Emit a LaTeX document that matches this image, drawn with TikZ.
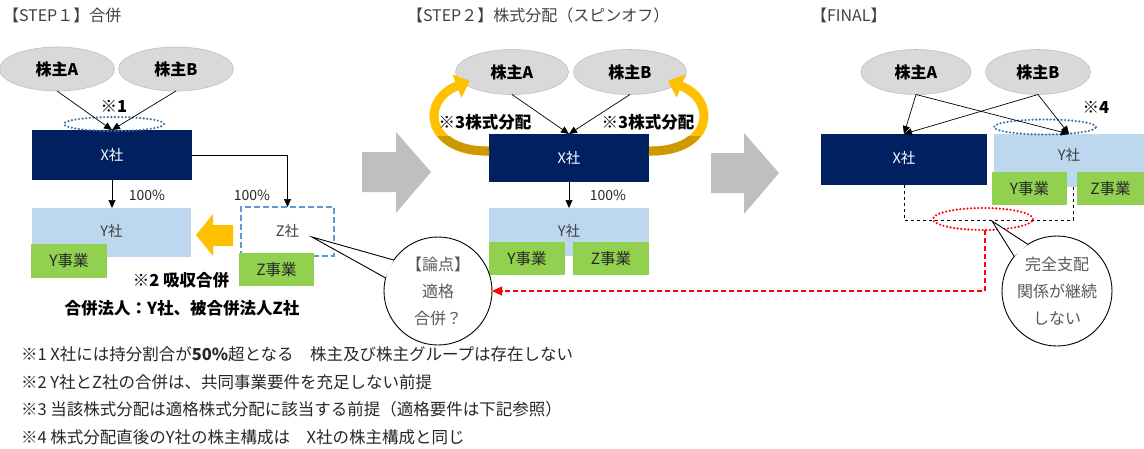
\documentclass[tikz,border=0pt]{standalone}
\usepackage{fontspec}
\setmainfont{Noto Sans CJK JP}
\usetikzlibrary{arrows.meta,calc,shapes.geometric}
\definecolor{navy}{HTML}{002060}
\definecolor{lblue}{HTML}{BDD7EE}
\definecolor{lgreen}{HTML}{92D050}
\definecolor{egray}{HTML}{D9D9D9}
\definecolor{eborder}{HTML}{BFBFBF}
\definecolor{orng}{HTML}{FFC000}
\definecolor{dorng}{HTML}{CC9A00}
\definecolor{dblue}{HTML}{41719C}
\definecolor{zblue}{HTML}{5B9BD5}
\definecolor{txtgray}{HTML}{404040}
\definecolor{bubgray}{HTML}{595959}
\definecolor{arrgray}{HTML}{BFBFBF}
\definecolor{dark}{HTML}{262626}
\definecolor{redline}{HTML}{FF0000}
\begin{document}
\begin{tikzpicture}[x=1pt,y=-1pt,
  every node/.style={inner sep=0pt,outer sep=0pt},
  holder/.style={ellipse,fill=egray,draw=eborder,line width=0.6pt,minimum width=113pt,minimum height=45pt,font=\fontsize{16}{18}\selectfont\bfseries},
  xbox/.style={rectangle,fill=navy,text=white,font=\fontsize{14.5}{16}\selectfont},
  ybox/.style={rectangle,fill=lblue,text=txtgray,font=\fontsize{14.5}{16}\selectfont},
  bizbox/.style={rectangle,fill=lgreen,text=dark,minimum height=33pt,font=\fontsize{15.5}{17}\selectfont},
  zbox/.style={rectangle,draw=zblue,line width=2pt,dash pattern=on 6pt off 3pt,fill=white,text=txtgray,font=\fontsize{14.5}{16}\selectfont},
  dotring/.style={ellipse,draw=#1,line width=2.4pt,line cap=round,dash pattern=on 0pt off 3.6pt},
  conn/.style={-{Triangle[length=8pt,width=7pt]},line width=0.7pt},
  pct/.style={text=dark,font=\fontsize{14}{15}\selectfont},
  boldlab/.style={text=black,font=\fontsize{16.5}{18}\selectfont\bfseries},
  title/.style={anchor=west,text=txtgray,font=\fontsize{16}{18}\selectfont},
  note/.style={anchor=west,text=dark,font=\fontsize{16.5}{18}\selectfont},
  bubble/.style={circle,draw=black,line width=0.9pt,fill=white,minimum size=#1,align=center,text=bubgray,font=\fontsize{16}{27}\selectfont},
  bigarrow/.style={fill=arrgray},
  swirl/.style={line width=9pt,draw=orng,-{Triangle[length=14pt,width=24pt]}}
]
\useasboundingbox (0,0) rectangle (1144,448);

% ---------------- titles
\node[title] (t1) at (3,15) {【STEP１】合併};
\node[title] (t2) at (407,15) {【STEP２】株式分配（スピンオフ）};
\node[title] (t3) at (811,15) {【FINAL】};

% ---------------- STEP 1
\node[holder,minimum width=115pt,minimum height=44pt] (a1) at (57,69) {株主A};
\node[holder,minimum width=115pt,minimum height=44pt] (b1) at (176,69) {株主B};
\node[xbox,minimum width=160pt,minimum height=50pt] (x1) at (112,155) {X社};
\node[ybox,minimum width=159pt,minimum height=49pt] (y1) at (111.5,232.5) {\raisebox{4pt}{Y社}};
\node[bizbox,minimum width=76pt,minimum height=34pt] (yb1) at (69,261) {Y事業};
\node[zbox,minimum width=93pt,minimum height=49pt] (z1) at (287.5,231.5) {\raisebox{2pt}{Z社}};
\node[bizbox,minimum width=75pt] (zb1) at (276.5,269.5) {Z事業};
\node[dotring=dblue,minimum width=100pt,minimum height=14pt] (e1) at (114,124) {};
\draw[conn] (a1.south) -- (x1.north);
\draw[conn] (b1.south) -- (x1.north);
\node[boldlab] (s1) at (114,106) {※1};
\draw[conn] (x1.south) -- (x1.south |- y1.north);
\draw[conn] (x1.east) -| (z1.north);
\node[pct] (p1) at (147,195) {100\%};
\node[pct] (p2) at (252,195) {100\%};
\fill[orng] (196,235) -- (213,214) -- (213,225) -- (233,225) -- (233,246) -- (213,246) -- (213,256) -- cycle;
\node[boldlab] (m2) at (181,280) {※2 吸収合併};
\node[boldlab] (m2b) at (182,308) {合併法人：Y社、被合併法人Z社};

% big gray arrows
\fill[bigarrow] (362,152) -- (396,152) -- (396,132) -- (431,172) -- (396,213) -- (396,192) -- (362,192) -- cycle;
\fill[bigarrow] (711,153) -- (744,153) -- (744,133) -- (779,173) -- (744,214) -- (744,193) -- (711,193) -- cycle;

% ---------------- STEP 2
\node[holder] (a2) at (512,72) {株主A};
\node[holder] (b2) at (630,72) {株主B};
\node[xbox,minimum width=160pt,minimum height=48pt] (x2) at (569,158) {X社};
\node[ybox,minimum width=160pt,minimum height=48pt] (y2) at (569,232) {\raisebox{3pt}{Y社}};
\node[bizbox,minimum width=76pt] (yb2) at (527,258.5) {Y事業};
\node[bizbox,minimum width=76pt] (zb2) at (611,258.5) {Z事業};
\draw[conn] (a2.south) -- (x2.north);
\draw[conn] (b2.south) -- (x2.north);
\draw[conn] (x2.south) -- (y2.north);
\node[pct] (p3) at (608,195) {100\%};
\coordinate (lstart) at ($(x2.west)+(0,-7)$);
\coordinate (rstart) at ($(x2.east)+(0,-7)$);
\coordinate (ltip) at (470,81);
\coordinate (rtip) at (668,81);
\draw[swirl] (lstart) .. controls (425,152) and (420,100) .. (ltip);
\draw[swirl] (rstart) .. controls (713,152) and (718,100) .. (rtip);
\begin{scope}
  \clip (415,136) rectangle (489,170);
  \draw[line width=9pt,draw=dorng] (lstart) .. controls (425,152) and (420,100) .. (ltip);
\end{scope}
\begin{scope}
  \clip (649,136) rectangle (725,170);
  \draw[line width=9pt,draw=dorng] (rstart) .. controls (713,152) and (718,100) .. (rtip);
\end{scope}
\node[boldlab] (s3l) at (485,122) {※3株式分配};
\node[boldlab] (s3r) at (648,122) {※3株式分配};

% ---------------- FINAL
\node[holder,minimum width=110pt] (a3) at (916,72) {株主A};
\node[holder,minimum width=105pt] (b3) at (1038,72) {株主B};
\node[xbox,minimum width=166pt,minimum height=51pt] (x3) at (904,159.5) {\raisebox{4pt}{X社}};
\node[ybox,minimum width=150pt,minimum height=53pt] (y3) at (1069,160.5) {\raisebox{12pt}{Y社}};
\node[bizbox,minimum width=75pt] (yb3) at (1029.5,188.5) {Y事業};
\node[bizbox,minimum width=67pt] (zb3) at (1110.5,188.5) {Z事業};
\node[dotring=dblue,minimum width=102pt,minimum height=15pt] (e3) at (1045,127) {};
\draw[conn] (a3.south) -- (x3.north);
\draw[conn] (a3.south) -- (y3.north);
\draw[conn] (b3.south) -- (x3.north);
\draw[conn] (b3.south) -- (y3.north);
\node[boldlab] (s4) at (1096,107) {※4};
\draw[dashed,line width=0.8pt] (x3.south) -- ++(0,35) -| ($(y3.south)+(4,0)$);
\node[dotring=redline,minimum width=100pt,minimum height=22pt] (re) at (983,219) {};

% red dashed connector
\node[bubble=108pt] (bub1) at (438,291) {【論点】\\適格\\合併？};
\draw[draw=redline,line width=1.3pt,dash pattern=on 5pt off 3pt,-{Triangle[length=10pt,width=9pt,fill=redline]}] ($(re.south)+(2,0)$) |- (bub1.east);

% callout bubble 1
\coordinate (tip1) at (312,237);
\fill[white] (bub1.145) -- (tip1) -- (bub1.166) -- cycle;
\draw[line width=0.9pt] (bub1.145) -- (tip1) -- (bub1.166);

% callout bubble 2
\node[bubble=110pt] (bub2) at (1057,291) {完全支配\\関係が継続\\しない};
\coordinate (tip2) at (992,221);
\fill[white] (bub2.122) -- (tip2) -- (bub2.141) -- cycle;
\draw[line width=0.9pt] (bub2.122) -- (tip2) -- (bub2.141);

% ---------------- notes
\node[note] (n1) at (21,354) {※1 X社には持分割合が{\bfseries 50\%}超となる　株主及び株主グループは存在しない};
\node[note] (n2) at (21,382) {※2 Y社とZ社の合併は、共同事業要件を充足しない前提};
\node[note] (n3) at (21,409) {※3 当該株式分配は適格株式分配に該当する前提（適格要件は下記参照）};
\node[note] (n4) at (21,437) {※4 株式分配直後のY社の株主構成は　X社の株主構成と同じ};
\end{tikzpicture}
\end{document}
